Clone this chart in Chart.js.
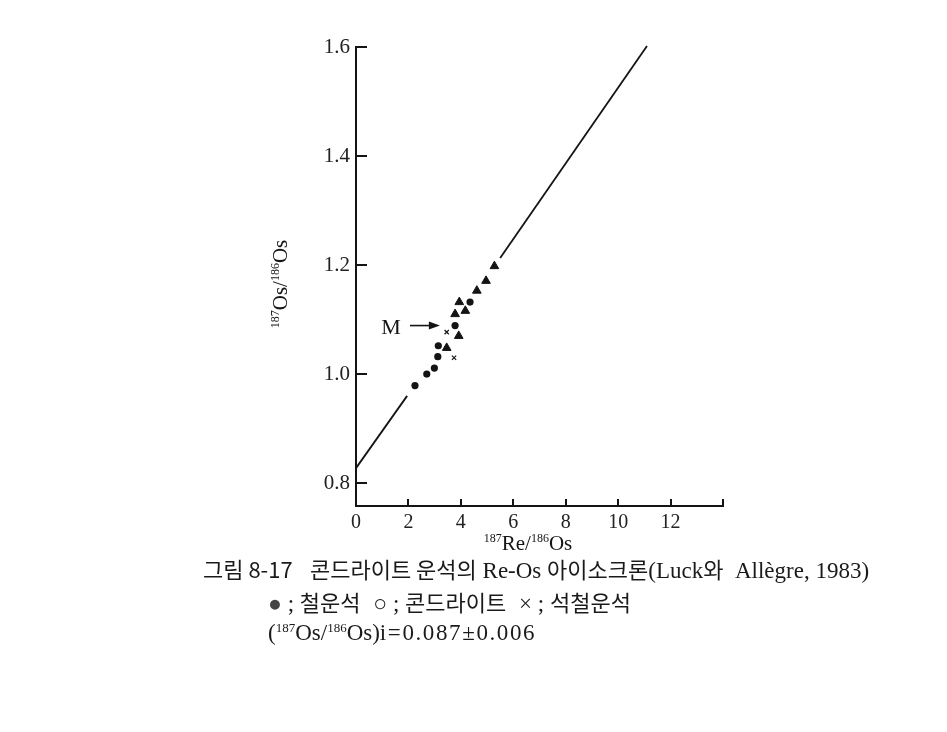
<!DOCTYPE html>
<html>
<head>
<meta charset="utf-8">
<script src="https://cdn.jsdelivr.net/npm/chart.js@4.4.1/dist/chart.umd.min.js"></script>
<style>
  html, body { margin: 0; padding: 0; background: #ffffff; }
  #wrap { position: relative; width: 947px; height: 732px; background: #ffffff; }
  #c { position: absolute; left: 0; top: 0; }
  .cap { position: absolute; white-space: nowrap; color: #1a1a1a;
         font-family: "Liberation Serif", "Noto Sans CJK KR", serif; font-size: 23px; line-height: 26px; }
  .cap sup { font-size: 13px; vertical-align: 8px; line-height: 0; }
  .ko { font-family: "Noto Sans CJK KR", sans-serif; font-size: 22px; }
  .gap { display: inline-block; width: 7px; }
</style>
</head>
<body>
<div id="wrap">
  <canvas id="c" width="947" height="732"></canvas>
  <div class="cap" id="cap1" style="left:203px; top:555px;"><span class="ko">그림 8-17</span>&nbsp;&nbsp;&nbsp;<span class="ko">콘드라이트 운석의</span> Re-Os <span class="ko">아이소크론</span>(Luck<span class="ko">와</span>&nbsp; Allègre, 1983)</div>
  <div class="cap" id="cap2" style="left:268px; top:588px;"><span style="color:#444">●</span> ; <span class="ko">철운석</span><span class="gap"></span> ○ ; <span class="ko">콘드라이트</span><span class="gap"></span> × ; <span class="ko">석철운석</span></div>
  <div class="cap" id="cap3" style="left:268px; top:620px;">(<sup>187</sup>Os/<sup>186</sup>Os)<span style="letter-spacing:1.6px">i=0.087±0.006</span></div>
</div>
<script>
// ---- Data ----
const ironX = [2.25, 2.70, 2.99, 3.12, 3.14, 3.78, 4.35];
const ironY = [0.979, 1.000, 1.011, 1.032, 1.052, 1.089, 1.132];

const triX = [3.46, 3.92, 3.78, 4.17, 3.94, 4.61, 4.96, 5.28];
const triY = [1.048, 1.070, 1.110, 1.116, 1.132, 1.153, 1.171, 1.198];

const stonyIronX = [3.46, 3.74];
const stonyIronY = [1.077, 1.030];

// isochron drawn in two pieces (gap where the points sit)
const isoLowX = [0, 1.95];
const isoLowY = [0.8275, 0.960];
const isoHighX = [5.50, 11.1];
const isoHighY = [1.213, 1.602];

// "M" label and its arrow, in data units
const mLabel = { x: 1.34, y: 1.085, text: "M" };
const mArrowX = [2.06, 3.20];
const mArrowY = [1.089, 1.089];

// axes
const xTickValues = [0, 2, 4, 6, 8, 10, 12, 14];
const xTickLabels = ["0", "2", "4", "6", "8", "10", "12", ""];
const yTickValues = [0.8, 1.0, 1.2, 1.4, 1.6];
const yTickLabels = ["0.8", "1.0", "1.2", "1.4", "1.6"];
const xRange = [0, 14];
const yRange = [0.758, 1.6];

const pts = (xs, ys) => xs.map((x, i) => ({ x: x, y: ys[i] }));

const INK = "#141414";
const serif = "'Liberation Serif', 'DejaVu Serif', serif";

const decorPlugin = {
  id: "decor",
  afterDraw(chart) {
    const ctx = chart.ctx;
    const xs = chart.scales.x, ys = chart.scales.y;
    ctx.save();
    ctx.strokeStyle = INK;
    ctx.lineWidth = 2;
    // inside tick marks
    xTickValues.forEach(v => {
      const px = Math.round(xs.getPixelForValue(v));
      ctx.beginPath(); ctx.moveTo(px, ys.bottom); ctx.lineTo(px, ys.bottom - 7); ctx.stroke();
    });
    yTickValues.forEach(v => {
      const py = Math.round(ys.getPixelForValue(v));
      ctx.beginPath(); ctx.moveTo(xs.left, py); ctx.lineTo(xs.left + 11, py); ctx.stroke();
    });

    // M label + arrow
    ctx.fillStyle = INK;
    ctx.font = "22px " + serif;
    ctx.textAlign = "center"; ctx.textBaseline = "middle";
    ctx.fillText(mLabel.text, xs.getPixelForValue(mLabel.x), ys.getPixelForValue(mLabel.y));
    const ax0 = xs.getPixelForValue(mArrowX[0]), ay0 = ys.getPixelForValue(mArrowY[0]);
    const ax1 = xs.getPixelForValue(mArrowX[1]), ay1 = ys.getPixelForValue(mArrowY[1]);
    ctx.lineWidth = 1.6;
    ctx.beginPath(); ctx.moveTo(ax0, ay0); ctx.lineTo(ax1 - 8, ay1); ctx.stroke();
    ctx.beginPath(); ctx.moveTo(ax1, ay1); ctx.lineTo(ax1 - 11, ay1 - 4); ctx.lineTo(ax1 - 11, ay1 + 4); ctx.closePath(); ctx.fill();

    // axis titles with superscripts
    function drawParts(parts, cx, cy, rot) {
      ctx.save();
      ctx.translate(cx, cy);
      if (rot) ctx.rotate(-Math.PI / 2);
      ctx.textAlign = "left"; ctx.textBaseline = "alphabetic";
      let total = 0;
      parts.forEach(p => { ctx.font = (p.sup ? "12px " : "21px ") + serif; total += ctx.measureText(p.t).width; });
      let x = -total / 2;
      parts.forEach(p => {
        ctx.font = (p.sup ? "12px " : "21px ") + serif;
        ctx.fillText(p.t, x, p.sup ? 0 : 8);
        x += ctx.measureText(p.t).width;
      });
      ctx.restore();
    }
    drawParts([{ t: "187", sup: true }, { t: "Re/" }, { t: "186", sup: true }, { t: "Os" }], 528, 542, false);
    drawParts([{ t: "187", sup: true }, { t: "Os/" }, { t: "186", sup: true }, { t: "Os" }], 279, 284, true);
    ctx.restore();
  }
};

new Chart(document.getElementById("c"), {
  type: "scatter",
  data: {
    datasets: [
      { label: "isochron low", data: pts(isoLowX, isoLowY), showLine: true, borderColor: INK, borderWidth: 1.8, pointRadius: 0, clip: false },
      { label: "isochron high", data: pts(isoHighX, isoHighY), showLine: true, borderColor: INK, borderWidth: 1.8, pointRadius: 0, clip: false },
      { label: "철운석", data: pts(ironX, ironY), pointStyle: "circle", pointRadius: 3.6, backgroundColor: INK, borderColor: INK, borderWidth: 0 },
      { label: "콘드라이트", data: pts(triX, triY), pointStyle: "triangle", pointRadius: 5, backgroundColor: INK, borderColor: INK, borderWidth: 1 },
      { label: "석철운석", data: pts(stonyIronX, stonyIronY), pointStyle: "crossRot", pointRadius: 3, borderColor: INK, borderWidth: 1.2 }
    ]
  },
  options: {
    responsive: false,
    animation: false,
    devicePixelRatio: 1,
    layout: { padding: { top: 47, right: 224, bottom: 0, left: 0 } },
    plugins: { legend: { display: false }, tooltip: { enabled: false } },
    scales: {
      x: {
        type: "linear", min: xRange[0], max: xRange[1],
        afterBuildTicks: s => { s.ticks = xTickValues.map(v => ({ value: v })); },
        afterFit: s => { s.height = 226; },
        grid: { display: false, drawTicks: false },
        border: { display: true, color: INK, width: 2 },
        ticks: {
          autoSkip: false, maxRotation: 0, padding: 5, color: "#222",
          font: { family: serif, size: 20 },
          callback: (v, i) => xTickLabels[i]
        }
      },
      y: {
        type: "linear", min: yRange[0], max: yRange[1],
        afterBuildTicks: s => { s.ticks = yTickValues.map(v => ({ value: v })); },
        afterFit: s => { s.width = 356; },
        grid: { display: false, drawTicks: false },
        border: { display: true, color: INK, width: 2 },
        ticks: {
          autoSkip: false, padding: 6, color: "#222",
          font: { family: serif, size: 21 },
          callback: (v, i) => yTickLabels[i]
        }
      }
    }
  },
  plugins: [decorPlugin]
});
</script>
</body>
</html>
